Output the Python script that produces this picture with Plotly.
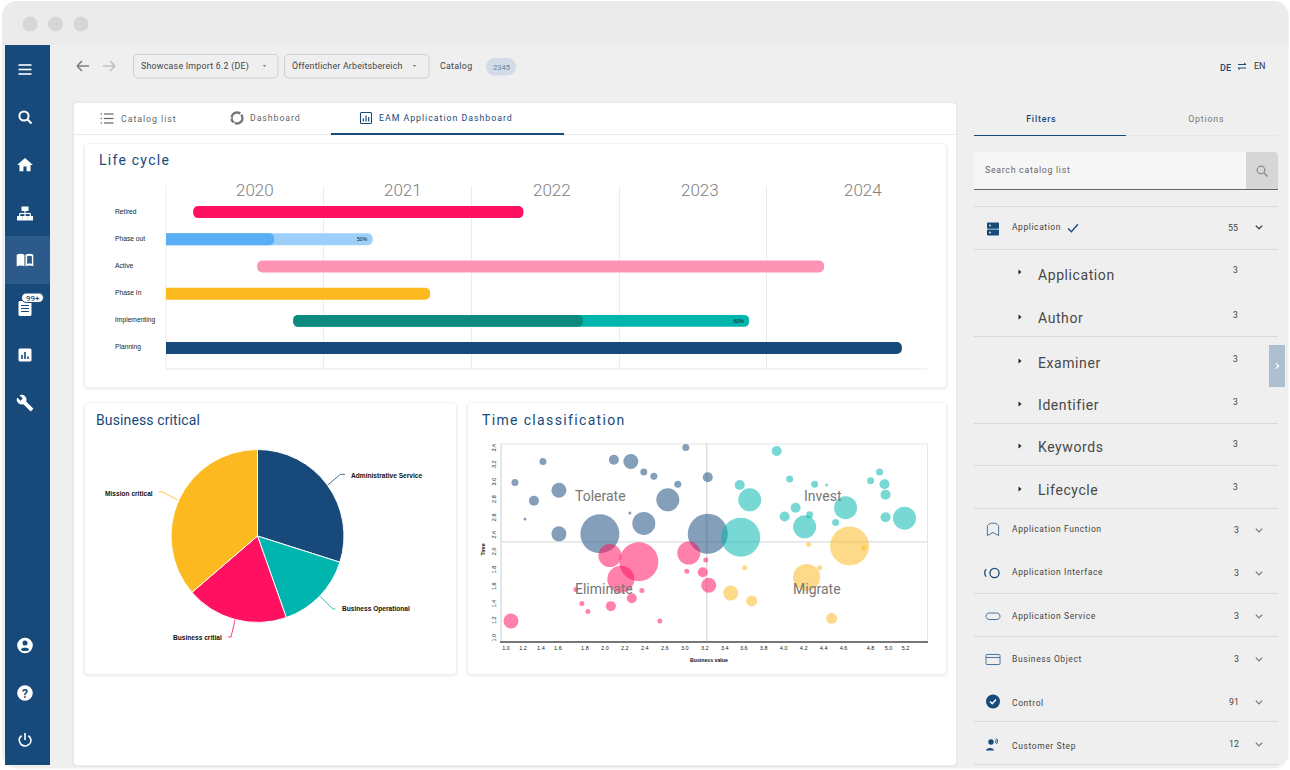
import json, re
from datetime import date
import plotly.graph_objects as go

NAVY = "#17497a"; TEAL = "#00b5ad"; PINK = "#ff1060"; YELLOW = "#fcb920"

# ---------- Life cycle data ----------
phases = ["Planning", "Implementing", "Phase In", "Active", "Phase out", "Retired"]
phase_start = ["2019-11-01", "2020-10-19", "2019-11-01", "2020-07-22", "2019-11-01", "2020-02-15"]
phase_end = ["2024-11-29", "2023-11-18", "2021-09-22", "2024-05-21", "2021-05-03", "2022-05-10"]
phase_color = [NAVY, TEAL, YELLOW, "#fd94b4", "#9ccffa", PINK]
phase_label = ["", "60%", "", "", "50%", ""]
progress_phase = ["Implementing", "Phase out"]
progress_start = ["2020-10-19", "2019-11-01"]
progress_end = ["2022-10-04", "2020-09-02"]
progress_color = ["#0d8a80", "#5aaef5"]
year_labels = ["2020", "2021", "2022", "2023", "2024"]
year_label_at = ["2020-07-17", "2021-07-17", "2022-07-20", "2023-07-20", "2024-08-25"]
year_starts = ["2021-01-01", "2022-01-01", "2023-01-01", "2024-01-01"]

# ---------- Business critical data ----------
pie_labels = ["Administrative Service", "Business Operational", "Business critial", "Mission critical"]
pie_values = [29.9, 14.7, 19.1, 36.3]
pie_colors = [NAVY, TEAL, PINK, YELLOW]

# ---------- Time classification data ----------
tol_x = [2.99, 1.56, 2.27, 2.44, 2.57, 2.67, 3.21, 1.28, 2.91, 1.72, 1.47, 2.81, 2.43, 1.38, 2.57, 1.72, 2.13, 3.21]
tol_y = [3.20, 3.04, 3.06, 3.04, 2.92, 2.87, 2.86, 2.80, 2.78, 2.71, 2.59, 2.60, 2.45, 2.38, 2.33, 2.21, 2.21, 2.21]
tol_s = [7, 7, 10, 15, 7, 7, 10, 7, 7, 15, 10, 23, 3, 3, 23, 15, 39, 40]
eli_x = [2.23, 2.52, 3.02, 3.19, 3.00, 3.16, 2.34, 3.22, 1.89, 2.55, 2.45, 1.95, 2.24, 2.01, 1.24, 2.73]
eli_y = [1.96, 1.89, 1.99, 1.91, 1.78, 1.77, 1.69, 1.62, 1.57, 1.56, 1.47, 1.41, 1.38, 1.32, 1.21, 1.21]
eli_s = [23, 39, 23, 5, 5, 10, 27, 15, 5, 5, 10, 5, 10, 5, 15, 5]
inv_x = [3.90, 4.03, 4.28, 4.40, 3.53, 4.93, 4.84, 4.98, 4.99, 3.63, 4.09, 4.59, 3.98, 4.23, 4.99, 5.18, 4.49, 4.18, 3.54]
inv_y = [3.16, 2.84, 2.78, 2.77, 2.77, 2.92, 2.82, 2.78, 2.66, 2.60, 2.51, 2.51, 2.41, 2.43, 2.40, 2.39, 2.34, 2.29, 2.17]
inv_s = [10, 7, 7, 3, 10, 7, 7, 10, 10, 23, 10, 23, 10, 7, 10, 23, 7, 23, 39]
mig_x = [4.63, 4.22, 4.77, 3.58, 4.33, 4.20, 3.44, 3.65, 4.45]
mig_y = [2.07, 2.09, 2.05, 1.82, 1.82, 1.71, 1.53, 1.44, 1.24]
mig_s = [39, 5, 5, 5, 5, 27, 15, 11, 11]
quadrant_names = ["Tolerate", "Invest", "Eliminate", "Migrate"]
quadrant_x = [2.135, 4.365, 2.175, 4.305]
quadrant_y = [2.64, 2.64, 1.58, 1.58]
xtick_at = [1.19, 1.36, 1.54, 1.71, 1.98, 2.18, 2.38, 2.58, 2.78, 2.98, 3.18, 3.38, 3.57, 3.77, 3.97, 4.17, 4.37, 4.57, 4.84, 5.02, 5.19]
xtick_text = ["1.0", "1.2", "1.4", "1.6", "1.8", "2.0", "2.2", "2.4", "2.6", "3.0", "3.2", "3.4", "3.6", "3.8", "4.0", "4.2", "4.4", "4.6", "4.8", "5.0", "5.2"]
ytick_at = [1.01, 1.21, 1.40, 1.60, 1.79, 2.00, 2.19, 2.39, 2.60, 2.80, 3.00, 3.19]
ytick_text = ["1.0", "1.2", "1.4", "1.6", "1.8", "2.0", "2.4", "2.6", "2.8", "3.0", "3.2", "3.4"]
cross_x = 3.20
cross_y = 2.118

# ---------- Application shell text ----------
sub_items = ["Application", "Author", "Examiner", "Identifier", "Keywords", "Lifecycle"]
sub_y = [275, 318, 363, 405, 447, 490]
sub_cy = [270, 315, 359, 402, 444, 487]
main_items = ["Application Function", "Application Interface", "Application Service", "Business Object", "Control", "Customer Step"]
main_y = [529, 572, 616, 659, 703, 746]
main_counts = ["3", "3", "3", "3", "91", "12"]
main_cy = [530, 573, 616, 659, 702, 744]

shapes, annos, spaced = [], [], {}


def add(**k):
    k.setdefault("xref", "x"); k.setdefault("yref", "y"); k.setdefault("layer", "below")
    k.setdefault("line", dict(width=0))
    shapes.append(k)


def rr_path(x0, y0, x1, y1, r):
    c = r * 0.45
    return (f"M{x0+r} {y0} L{x1-r} {y0} C{x1-c} {y0} {x1} {y0+c} {x1} {y0+r} L{x1} {y1-r} "
            f"C{x1} {y1-c} {x1-c} {y1} {x1-r} {y1} L{x0+r} {y1} C{x0+c} {y1} {x0} {y1-c} {x0} {y1-r} "
            f"L{x0} {y0+r} C{x0} {y0+c} {x0+c} {y0} {x0+r} {y0} Z")


def rr(x0, y0, x1, y1, r=3, fill="#fff", line=None, lw=1):
    add(type="path", path=rr_path(x0, y0, x1, y1, r), fillcolor=fill,
        line=dict(color=line, width=lw) if line else dict(width=0))


def rect(x0, y0, x1, y1, fill):
    add(type="rect", x0=x0, y0=y0, x1=x1, y1=y1, fillcolor=fill)


def line(x0, y0, x1, y1, color, w=1, layer="below"):
    add(type="line", x0=x0, y0=y0, x1=x1, y1=y1, line=dict(color=color, width=w), layer=layer)


def circ(cx, cy, r, fill=None, stroke=None, w=1):
    add(type="circle", x0=cx - r, y0=cy - r, x1=cx + r, y1=cy + r,
        fillcolor=fill or "rgba(0,0,0,0)", line=dict(color=stroke, width=w) if stroke else dict(width=0))


def icon(d, cx, cy, size=16, fill=None, stroke=None, w=1, rule=None):
    s = size / 24
    n = [0]

    def sub(m):
        v = float(m.group())
        off = cx if n[0] % 2 == 0 else cy
        n[0] += 1
        return f"{(v - 12) * s + off:.2f}"
    k = dict(type="path", path=re.sub(r"-?\d+\.?\d*", sub, d),
             fillcolor=fill or "rgba(0,0,0,0)",
             line=dict(color=stroke, width=w) if stroke else dict(width=0))
    if rule:
        k["fillrule"] = rule
    add(**k)


def T(x, y, s, size=9, color="#444", anchor="left", family="Roboto", weight=None, sp=0, angle=0):
    f = dict(family=family, size=size, color=color)
    if weight:
        f["weight"] = weight
    annos.append(dict(xref="x", yref="y", x=x, y=y, text=s, showarrow=False, xanchor=anchor, yanchor="middle",
                      align=anchor, borderpad=0, borderwidth=0, font=f, textangle=angle))
    if sp:
        spaced[s] = sp


def dom(x0, y0, x1, y1):
    return dict(x=[x0 / 1290, x1 / 1290], y=[1 - y1 / 770, 1 - y0 / 770])


# ---------- window ----------
rr(2, 1, 1288.5, 768.5, 15, "#efefef")
add(type="path", path="M2 45 L2 16 C2 8 8 1 17 1 L1273 1 C1282 1 1288.5 8 1288.5 16 L1288.5 45 Z", fillcolor="#ebebeb")
for cx in (30, 55.5, 81):
    circ(cx, 24, 7.5, "#d6d6d6")

# ---------- sidebar ----------
rect(5, 45, 50, 765, NAVY)
rect(5, 236, 50, 284, "#2c5a8a")
W = "#ffffff"
for y in (65, 69.5, 74):
    line(18.5, y, 31.5, y, W, 1.6)
circ(24, 116, 4.6, None, W, 2)
line(27.5, 119.5, 31.5, 123.5, W, 2.2)
icon("M10 20 L10 14 L14 14 L14 20 L19 20 L19 12 L22 12 L12 3 L2 12 L5 12 L5 20 Z", 25, 165, 19, W)
rect(21.5, 206.5, 28.5, 211, W); rect(17, 216, 22.5, 220.5, W); rect(22.3, 216, 27.7, 220.5, W); rect(27.5, 216, 33, 220.5, W)
line(25, 211, 25, 216, W, 1.2); line(19.7, 213.5, 30.3, 213.5, W, 1.2); line(19.7, 213.5, 19.7, 216, W, 1.2); line(30.3, 213.5, 30.3, 216, W, 1.2)
icon("M1.5 5.5 C4.5 3.7 8.8 3.7 11.3 5.5 L11.3 20 C8.8 18.6 4.5 18.6 1.5 20 Z", 25, 260, 19, W)
icon("M12.7 5.5 C15.2 3.7 19.5 3.7 22.5 5.5 L22.5 20 C19.5 18.6 15.2 18.6 12.7 20 Z M14.7 7.3 L14.7 17 C16.5 16.2 18.8 16.2 20.7 16.9 L20.7 7.3 C18.8 6.4 16.5 6.4 14.7 7.3 Z", 25, 260, 19, W, rule="evenodd")
rr(18.5, 301, 31.5, 316, 1.5, W)
for y in (305.5, 308.5, 311.5):
    line(21, y, 29, y, NAVY, 1)
rr(21.5, 293, 43.5, 302.5, 4.7, W, NAVY, 1)
T(32.5, 298, "99+", 8, NAVY, "center", weight=500)
rr(18.5, 348.5, 31.5, 361.5, 1.5, W)
for bx, by in ((22, 355), (25, 352), (28, 356.5)):
    line(bx, by, bx, 359, NAVY, 1.6)
icon("M22.7 19 L13.6 9.9 C14.5 7.6 14 4.9 12.1 3 C10.1 1 7.1 0.6 4.7 1.7 L9 6 L6 9 L1.6 4.7 C0.4 7.1 0.9 10.1 2.9 12.1 C4.8 14 7.5 14.5 9.8 13.6 L18.9 22.7 C19.3 23.1 19.9 23.1 20.3 22.7 L22.6 20.4 C23.1 20 23.1 19.3 22.7 19 Z", 25, 403, 18, W)
circ(25, 645.5, 7.8, W)
circ(25, 643, 2.5, NAVY)
icon("M5.5 18.5 C7 14.5 17 14.5 18.5 18.5 C16.5 21 7.5 21 5.5 18.5 Z", 25, 645.5, 15.5, NAVY)
circ(25, 693, 7.8, W)
T(25, 693.5, "?", 12, NAVY, "center", weight=700)
icon("M7 5.6 C3.5 8 2.5 12 4.2 15.8 C6 19.8 10.5 21.5 14.5 20.5 C19 19.2 21.5 15 20.8 11 C20.3 8.8 19 6.8 17 5.6", 25, 740, 16, None, W, 1.6)
line(25, 733, 25, 740, W, 1.6)

# ---------- top bar ----------
for x0, x1, c in ((89, 77, "#777"), (103, 115, "#bdbdbd")):
    line(x0, 66, x1, 66, c, 1.4)
    d = 1 if x1 < x0 else -1
    line(x1, 66, x1 + d * 5, 61, c, 1.4); line(x1, 66, x1 + d * 5, 71, c, 1.4)
rr(133.5, 54.5, 278, 78, 4, "rgba(0,0,0,0)", "#cfcfcf")
T(141, 66, "Showcase Import 6.2 (DE)", 8.8, "#444", sp=0.25)
rr(284.5, 54.5, 429, 78, 4, "rgba(0,0,0,0)", "#cfcfcf")
T(292, 66, "Öffentlicher Arbeitsbereich", 8.8, "#444", sp=0.22)
for cx in (264.5, 414.5):
    icon("M8 10 L16 10 L12 14 Z", cx, 66, 10, "#555")
T(440, 65.5, "Catalog", 8.8, "#444", sp=0.3)
rr(486, 58, 516, 75.5, 8.7, "#d2dce7")
T(501, 67, "2345", 7.5, "#6b8199", "center")
T(1225, 67.5, "DE", 9, NAVY, "center", weight=500)
line(1238, 64.5, 1246, 64.5, NAVY, 1); line(1246, 64.5, 1244, 63, NAVY, 1)
line(1238, 68, 1246, 68, NAVY, 1); line(1238, 68, 1240, 69.5, NAVY, 1)
T(1260, 66, "EN", 9, "#333", "center")

# ---------- main white card + tabs ----------
rr(72, 102, 958, 767, 4, "rgba(0,0,0,0.025)")
rr(74, 103, 956, 765, 3, "#fff")
line(74, 134.5, 956, 134.5, "#e9e9e9", 1)
line(331, 134, 564, 134, NAVY, 2)
for y in (114, 118.5, 123):
    line(104, y, 113.5, y, "#666", 1.2)
    circ(101.3, y, 0.8, "#666")
T(121, 118.5, "Catalog list", 8.8, "#666", sp=0.95)
circ(237, 118, 5.5, None, "#777", 2.4)
line(240, 115, 243, 112, "#fff", 1.6); line(234.7, 122.5, 232.5, 125, "#fff", 1.6); line(231.5, 118, 229.5, 118, "#fff", 1.4)
T(250, 117.5, "Dashboard", 8.8, "#666", sp=0.9)
rr(360.5, 112.5, 371.5, 123.5, 1, "rgba(0,0,0,0)", NAVY, 1.1)
for bx, by in ((363.3, 118.5), (366, 115.5), (368.7, 117)):
    line(bx, by, bx, 121.5, NAVY, 1.2)
T(379, 117.5, "EAM Application Dashboard", 8.8, NAVY, sp=0.97)

# ---------- dashboard cards ----------
for x0, y0, x1, y1 in ((85, 144, 946, 387), (85, 403, 456, 674), (468, 403, 946, 674)):
    rr(x0 - 3, y0 - 1, x1 + 3, y1 + 4, 6, "rgba(0,0,0,0.012)")
    rr(x0 - 2, y0 - 1, x1 + 2, y1 + 3, 5, "rgba(0,0,0,0.02)")
    rr(x0 - 1, y0 - 0.5, x1 + 1, y1 + 1.5, 4, "rgba(0,0,0,0.03)")
    rr(x0, y0, x1, y1, 3, "#fff")
T(99, 160, "Life cycle", 14, NAVY, sp=1.25)
T(95.5, 420, "Business critical", 14, NAVY, sp=0.12)
T(482, 420, "Time classification", 14, NAVY, sp=1.35)

# ---------- right panel ----------
T(1041, 118.5, "Filters", 8.8, NAVY, "center", sp=0.8, weight=500)
T(1206, 118.5, "Options", 8.8, "#777", "center", sp=0.8)
line(974, 135.5, 1278, 135.5, "#e6e6e6", 1)
line(974, 135.5, 1126, 135.5, NAVY, 1.2)
add(type="path", path="M974 152 L1274 152 C1277 152 1278 153 1278 156 L1278 189 L974 189 Z", fillcolor="#f6f6f6")
add(type="path", path="M1246 152 L1274 152 C1277 152 1278 153 1278 156 L1278 189 L1246 189 Z", fillcolor="#d6d6d6")
line(974, 189.5, 1278, 189.5, "#666", 1)
T(985, 169.5, "Search catalog list", 8.8, "#666", sp=0.7)
circ(1261, 170, 3.8, None, "#888", 1.2)
line(1264, 173, 1267.5, 176.5, "#888", 1.3)
for y in (206.5, 249.5, 336.5, 423.5, 465.5, 508.5, 593.5, 636.5, 721.5, 764.5):
    line(974, y, 1278, y, "#d9d9d9", 1)
rr(987, 222.5, 999, 228.7, 1, NAVY); rr(987, 229.5, 999, 235.5, 1, NAVY)
circ(990, 225.5, 0.9, "#efefef"); circ(990, 232.5, 0.9, "#efefef")
T(1012, 227, "Application", 8.5, "#444", sp=0.58)
icon("M3 13 L9 19 L21 5", 1073, 228, 13, None, NAVY, 1.3)
T(1233, 228, "55", 8.8, "#444", "center")


def chev(cx, cy, c="#777", w=1.2):
    icon("M5 9 L12 16 L19 9", cx, cy, 11, None, c, w)


chev(1259, 227, "#444", 1.4)
for name, y, cy in zip(sub_items, sub_y, sub_cy):
    T(1038, y, name, 14, "#484848", sp=0.58)
    T(1235.5, cy, "3", 8.5, "#444", "center")
    icon("M8 5 L16 12 L8 19 Z", 1020, cy + 2, 9, "#222")
for name, y, c, cy in zip(main_items, main_y, main_counts, main_cy):
    T(1012, y, name, 8.5, "#444", sp=0.6)
    T(1236 if len(c) == 1 else 1233.5, cy, c, 8.8, "#444", "center")
    chev(1259, cy)
icon("M3 5 C6 2 8 1 12 1 C16 1 18 2 21 5 L21 21 L12 16 L3 21 Z", 993, 530, 15, None, "#4f7397", 1)
circ(994.5, 573, 4.6, None, NAVY, 1.3)
icon("M9 3 C4 7 4 17 9 21", 987.5, 573, 10, None, NAVY, 1.3)
rr(986, 613, 1000, 619.5, 3.2, "rgba(0,0,0,0)", "#4f7397", 1)
rr(986, 654.5, 1000, 664.5, 0.8, "rgba(0,0,0,0)", "#4f7397", 1)
line(986, 657.5, 1000, 657.5, "#4f7397", 1)
circ(993, 701.5, 7, NAVY)
icon("M6 12 L10.5 16.5 L18 8", 993, 701.5, 12, None, "#fff", 1.5)
circ(991, 742, 2.7, NAVY)
icon("M2 21 C2 14 18 14 18 21 Z", 991, 746, 12, NAVY)
icon("M15 5 C17 7 17 11 15 13 M18 2.5 C21 6 21 12 18 15.5", 994, 742.5, 10, None, NAVY, 1)
rect(1269, 345, 1285, 387, "#aebfd1")
icon("M9 5 L16 12 L9 19", 1277, 366, 9, None, "#fff", 1.3)

# ---------- Life cycle chrome lines + labels ----------
line(166, 186, 166, 369, "#efefef", 1)
line(166, 369, 927, 369, "#efefef", 1.5)
for name in phases:
    T(115, None, name, 6.7, "#222", family="Liberation Sans")
    annos[-1].update(xref="x", yref="y2", y=name, yshift=0.8)
for yr, at in zip(year_labels, year_label_at):
    annos.append(dict(xref="x2", yref="y", x=at, y=190, text=yr, showarrow=False, xanchor="center", yanchor="middle",
                      font=dict(family="Roboto", size=17, color="#808080", weight=300)))

# ---------- Pie annotation text + leader lines ----------
leaders = [[(327.7, 485), (340.5, 474.3), (345, 474.3)], [(319.7, 596), (333, 609), (335.5, 609)],
           [(235, 620), (231, 637), (228, 637)], [(177.7, 500), (163, 492), (159, 492)]]
for pts, c in zip(leaders, pie_colors):
    add(type="path", path="M" + " L".join(f"{a} {b}" for a, b in pts), line=dict(color=c, width=0.8), layer="above")
for name, (x, y) in zip(pie_labels, [(350.5, 475), (341.5, 609), (173, 637.5), (105, 493.5)]):
    T(x, y, name, 6.6, "#111", "left", family="Liberation Sans", weight=700)

# ---------- Scatter titles ----------
T(709, 659.5, "Business value", 5.2, "#111", "center", family="Liberation Sans", weight=700)
T(482, 549.5, "Time", 5.2, "#111", "center", family="Liberation Sans", weight=700, angle=-90)

fig = go.Figure()
fig.add_trace(go.Scatter(x=[None], y=[None], xaxis="x", yaxis="y", showlegend=False, hoverinfo="skip"))


def ms(a, b):
    return (date.fromisoformat(b) - date.fromisoformat(a)).days * 86400000


fig.add_trace(go.Bar(y=phases, base=phase_start, x=[ms(a, b) for a, b in zip(phase_start, phase_end)],
                     orientation="h", xaxis="x2", yaxis="y2", marker=dict(color=phase_color, line=dict(width=0)),
                     width=0.44, text=phase_label, textposition="inside", insidetextanchor="end",
                     textangle=0, constraintext="none", textfont=dict(size=5.2, color="#111", family="Liberation Sans"),
                     showlegend=False, hoverinfo="skip"))
fig.add_trace(go.Bar(y=progress_phase, base=progress_start, x=[ms(a, b) for a, b in zip(progress_start, progress_end)],
                     orientation="h", xaxis="x2", yaxis="y2", marker=dict(color=progress_color, line=dict(width=0)),
                     width=0.44, showlegend=False, hoverinfo="skip"))

fig.add_trace(go.Pie(labels=pie_labels, values=pie_values, sort=False, direction="clockwise", rotation=0,
                     marker=dict(colors=pie_colors, line=dict(color="#ffffff", width=1)), textinfo="none",
                     domain=dom(171, 449, 344, 623), showlegend=False, hoverinfo="skip"))

for xs, ys, ss, col in ((tol_x, tol_y, tol_s, NAVY), (eli_x, eli_y, eli_s, PINK), (inv_x, inv_y, inv_s, TEAL), (mig_x, mig_y, mig_s, YELLOW)):
    fig.add_trace(go.Scatter(x=xs, y=ys, mode="markers", xaxis="x3", yaxis="y3", showlegend=False, hoverinfo="skip",
                             marker=dict(size=ss, sizemode="diameter", color=col, opacity=0.53, line=dict(width=0))))
for n, x, y in zip(quadrant_names, quadrant_x, quadrant_y):
    annos.append(dict(xref="x3", yref="y3", x=x, y=y, text=n, showarrow=False,
                      font=dict(family="Roboto", size=14, color="#777")))
add(type="line", xref="x3", yref="y3", x0=cross_x, x1=cross_x, y0=0.98, y1=3.247, line=dict(color="#cfcfcf", width=1))
add(type="line", xref="x3", yref="y3", x0=1.145, x1=5.405, y0=cross_y, y1=cross_y, line=dict(color="#dedede", width=1.2))
line(501.5, 444, 927, 444, "#e6e6e6", 1.2)

d2 = dom(166, 186, 927, 369)
d3 = dom(501.5, 443.5, 927, 641)
fig.update_layout(
    width=1290, height=770, autosize=False, margin=dict(l=0, r=0, t=0, b=0, pad=0),
    paper_bgcolor="#ffffff", plot_bgcolor="rgba(0,0,0,0)", barmode="overlay", barcornerradius=6,
    showlegend=False, shapes=shapes, annotations=annos, font=dict(family="Roboto"),
    xaxis=dict(domain=[0, 1], range=[0, 1290], visible=False, fixedrange=True),
    yaxis=dict(domain=[0, 1], range=[770, 0], visible=False, fixedrange=True, anchor="x"),
    xaxis2=dict(domain=d2["x"], type="date", range=["2019-12-10", "2025-01-30"], anchor="y2", side="top",
                tickmode="array", tickvals=year_starts, showticklabels=False, showgrid=True, gridcolor="#ececf0", gridwidth=1,
                ticks="", showline=False, zeroline=False, fixedrange=True),
    yaxis2=dict(domain=d2["y"], type="category", categoryorder="array", categoryarray=phases, range=[-0.77, 5.96],
                anchor="x2", showticklabels=False, showgrid=False, ticks="", showline=False, zeroline=False, fixedrange=True),
    xaxis3=dict(domain=d3["x"], range=[1.145, 5.405], anchor="y3", tickmode="array", tickvals=xtick_at, ticktext=xtick_text,
                tickfont=dict(family="Liberation Sans", size=5.5, color="#222"), tickangle=0, showgrid=False, zeroline=False,
                showline=True, linecolor="#777777", linewidth=2, ticks="", fixedrange=True),
    yaxis3=dict(domain=d3["y"], range=[0.98, 3.247], anchor="x3", tickmode="array", tickvals=ytick_at, ticktext=ytick_text,
                tickfont=dict(family="Liberation Sans", size=5.5, color="#222"), tickangle=-90, showgrid=False, zeroline=False,
                showline=True, mirror=True, linecolor="#e6e6e6", linewidth=1.2, ticks="", fixedrange=True, ticklabelstandoff=2),
)

post = """
document.documentElement.style.margin='0';document.body.style.margin='0';document.body.style.overflow='hidden';
var sp=%s;
document.querySelectorAll('.annotation-text').forEach(function(t){var v=sp[t.textContent];if(v){t.style.letterSpacing=v+'px';}});
""" % json.dumps(spaced)
fig.write_html("out.html", config=dict(displayModeBar=False, staticPlot=True), post_script=post)
